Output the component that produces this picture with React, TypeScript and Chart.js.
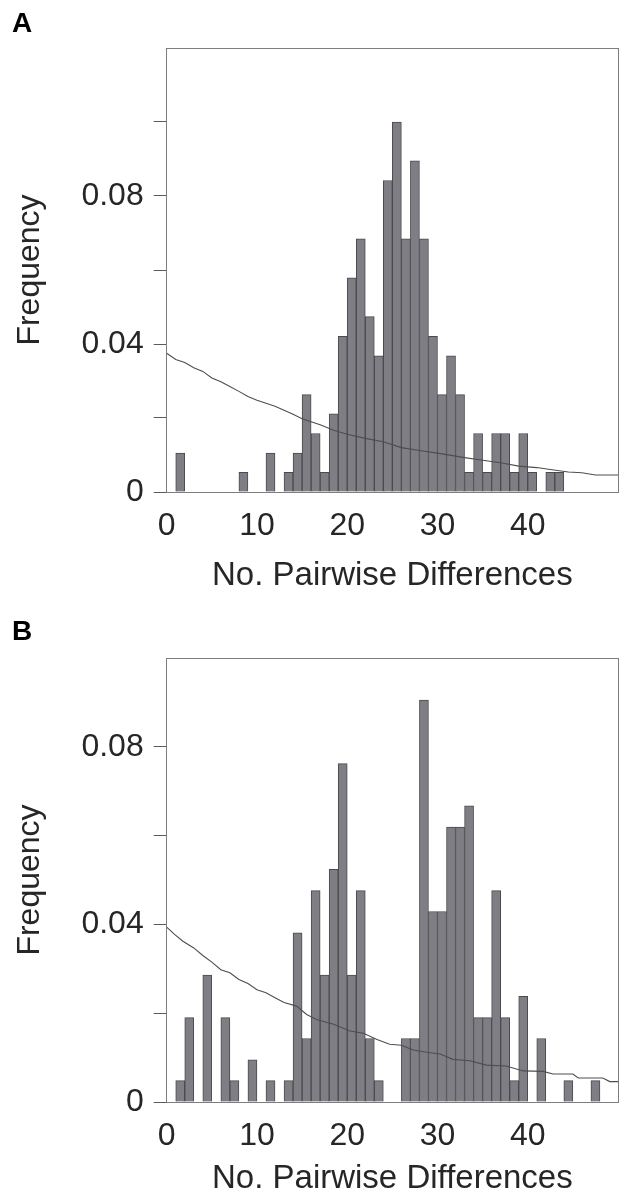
import React, { useEffect, useRef } from "react";
import { Chart, registerables } from "chart.js";

Chart.register(...registerables);

// ---- Panel A data ----
const binsA = [1, 8, 11, 13, 14, 15, 16, 17, 18, 19, 20, 21, 22, 23, 24, 25, 26, 27, 28, 29, 30, 31, 32, 33, 34, 35, 36, 37, 38, 39, 40, 42, 43];
const freqA = [0.0105, 0.0053, 0.0105, 0.0053, 0.0105, 0.0263, 0.0158, 0.0053, 0.0211, 0.0421, 0.0579, 0.0684, 0.0474, 0.0368, 0.0842, 0.1, 0.0684, 0.0895, 0.0684, 0.0421, 0.0263, 0.0368, 0.0263, 0.0053, 0.0158, 0.0053, 0.0158, 0.0158, 0.0053, 0.0158, 0.0053, 0.0053, 0.0053];
const curveXA = [0, 1, 2, 3, 4, 5, 6, 7, 8, 9, 10, 12, 14, 15, 17, 18.5, 20, 22, 24, 26, 28, 30, 31.5, 33, 35, 37, 39, 41, 42.5, 44.5, 46, 47.5, 50];
const curveYA = [0.0375, 0.0358, 0.035, 0.0336, 0.0326, 0.0308, 0.0298, 0.0285, 0.0272, 0.0258, 0.0248, 0.0232, 0.021, 0.0198, 0.0182, 0.0167, 0.0156, 0.0145, 0.0136, 0.012, 0.0112, 0.0105, 0.0099, 0.0093, 0.0086, 0.0079, 0.007, 0.0066, 0.0061, 0.0054, 0.0052, 0.0046, 0.0046];

// ---- Panel B data ----
const binsB = [1, 2, 4, 6, 7, 9, 11, 13, 14, 15, 16, 17, 18, 19, 20, 21, 22, 23, 26, 27, 28, 29, 30, 31, 32, 33, 34, 35, 36, 37, 38, 39, 41, 44, 47];
const freqB = [0.0048, 0.019, 0.0286, 0.019, 0.0048, 0.0095, 0.0048, 0.0048, 0.0381, 0.0143, 0.0476, 0.0286, 0.0524, 0.0762, 0.0286, 0.0476, 0.0143, 0.0048, 0.0143, 0.0143, 0.0905, 0.0429, 0.0429, 0.0619, 0.0619, 0.0667, 0.019, 0.019, 0.0476, 0.019, 0.0048, 0.0238, 0.0143, 0.0048, 0.0048];
const curveXB = [0, 0.9, 1.8, 3, 4, 5, 6, 7, 8, 9, 10, 11, 12, 13, 14.4, 15.5, 16.6, 18.5, 20.3, 21.8, 23.3, 24.7, 26, 27.3, 29.2, 30.3, 31.7, 33.6, 35.4, 37.6, 39.5, 41.7, 42.8, 45, 45.6, 48.3, 49.1, 50];
const curveYB = [0.0394, 0.0377, 0.0362, 0.0347, 0.033, 0.0315, 0.0298, 0.0291, 0.0276, 0.0267, 0.0253, 0.0246, 0.0235, 0.0224, 0.0216, 0.0197, 0.0186, 0.0175, 0.016, 0.0155, 0.0141, 0.013, 0.0128, 0.0117, 0.0111, 0.0108, 0.0096, 0.0093, 0.0083, 0.0081, 0.007, 0.0069, 0.0063, 0.0063, 0.0054, 0.0054, 0.0046, 0.0046];

const xTickLabels = [0, 10, 20, 30, 40];
const yLabelled = [0, 0.04, 0.08];

const FONT = "'Liberation Sans', Arial, Helvetica, sans-serif";
const TEXT = "#262626";
const FRAME = "#7d7d7d";
const TICK = "#5a5a5a";
const BAR_FILL = "#7e7e84";
const BAR_EDGE = "#4a4a4e";
const CURVE = "#4e4e4e";

type PanelProps = {
  bins: number[];
  freqs: number[];
  cx: number[];
  cy: number[];
  yMax: number;
  titlePad: number;
};

function Panel({ bins, freqs, cx, cy, yMax, titlePad }: PanelProps) {
  const ref = useRef<HTMLCanvasElement | null>(null);
  useEffect(() => {
    if (!ref.current) return;
    const chart = new Chart(ref.current, {
      type: "bar",
      data: {
        datasets: [
          {
            type: "line",
            data: cx.map((x, i) => ({ x, y: cy[i] })),
            borderColor: CURVE,
            borderWidth: 1.1,
            pointRadius: 0,
            tension: 0,
            fill: false,
            order: 0,
          } as any,
          {
            type: "bar",
            data: bins.map((b, i) => ({ x: b + 0.5, y: freqs[i] })),
            backgroundColor: BAR_FILL,
            borderColor: BAR_EDGE,
            borderWidth: 1,
            barPercentage: 1,
            categoryPercentage: 1,
            order: 1,
          } as any,
        ],
      },
      options: {
        animation: false,
        responsive: false,
        maintainAspectRatio: false,
        layout: { padding: 0 },
        plugins: { legend: { display: false }, tooltip: { enabled: false } },
        scales: {
          x: {
            type: "linear",
            position: "bottom",
            min: 0,
            max: 50,
            offset: false,
            grid: { display: false, offset: false },
            border: { display: true, color: FRAME, width: 1 },
            afterBuildTicks: (s: any) => {
              s.ticks = xTickLabels.map((v) => ({ value: v }));
            },
            ticks: {
              autoSkip: false,
              maxRotation: 0,
              padding: 7,
              color: TEXT,
              font: { family: FONT, size: 32 },
              callback: (v: any) => String(v),
            },
            title: {
              display: true,
              text: "No. Pairwise Differences",
              color: TEXT,
              font: { family: FONT, size: 33 },
              padding: { top: 0, bottom: titlePad },
            },
            afterFit: (s: any) => {
              s.height = 108;
            },
          },
          xTop: {
            type: "linear",
            position: "top",
            min: 0,
            max: 50,
            offset: false,
            grid: { display: false },
            ticks: { display: false },
            border: { display: true, color: FRAME, width: 1 },
            afterFit: (s: any) => {
              s.height = 48;
            },
          },
          y: {
            type: "linear",
            position: "left",
            min: 0,
            max: yMax,
            grid: {
              display: true,
              drawOnChartArea: false,
              drawTicks: true,
              tickLength: 13,
              color: TICK,
            },
            border: { display: true, color: FRAME, width: 1 },
            afterBuildTicks: (s: any) => {
              s.ticks = s.ticks.filter((t: any) => t.value < yMax - 1e-9);
            },
            ticks: {
              stepSize: 0.02,
              padding: 10,
              color: TEXT,
              font: { family: FONT, size: 32 },
              callback: (v: any) => {
                const n = Number(v);
                const hit = yLabelled.find((l) => Math.abs(l - n) < 1e-9);
                if (hit === undefined) return "";
                return hit === 0 ? "0" : hit.toFixed(2);
              },
            },
            title: {
              display: true,
              text: "Frequency",
              color: TEXT,
              font: { family: FONT, size: 32 },
              padding: { top: 11, bottom: 0 },
            },
            afterFit: (s: any) => {
              s.width = 166.7;
            },
          },
          yRight: {
            type: "linear",
            position: "right",
            min: 0,
            max: yMax,
            grid: { display: false },
            ticks: { display: false },
            border: { display: true, color: FRAME, width: 1 },
            afterFit: (s: any) => {
              s.width = 3;
            },
          },
        },
      } as any,
    });
    return () => chart.destroy();
  }, []);
  return <canvas ref={ref} width={621} height={600} style={{ display: "block", width: 621, height: 600 }} />;
}

const letterStyle: React.CSSProperties = {
  position: "absolute",
  left: 12,
  fontFamily: FONT,
  fontWeight: 700,
  fontSize: 28,
  lineHeight: "28px",
  color: "#000",
};

export default function App() {
  return (
    <div
      style={{
        position: "absolute",
        left: 0,
        top: 0,
        width: 621,
        height: 1194,
        overflow: "hidden",
        background: "#fff",
      }}
    >
      <div style={{ position: "absolute", left: 0, top: 0 }}>
        <Panel bins={binsA} freqs={freqA} cx={curveXA} cy={curveYA} yMax={0.12} titlePad={4} />
      </div>
      <div style={{ position: "absolute", left: 0, top: 610 }}>
        <Panel bins={binsB} freqs={freqB} cx={curveXB} cy={curveYB} yMax={0.1} titlePad={11} />
      </div>
      <div style={{ ...letterStyle, top: 9 }}>A</div>
      <div style={{ ...letterStyle, top: 617 }}>B</div>
    </div>
  );
}
